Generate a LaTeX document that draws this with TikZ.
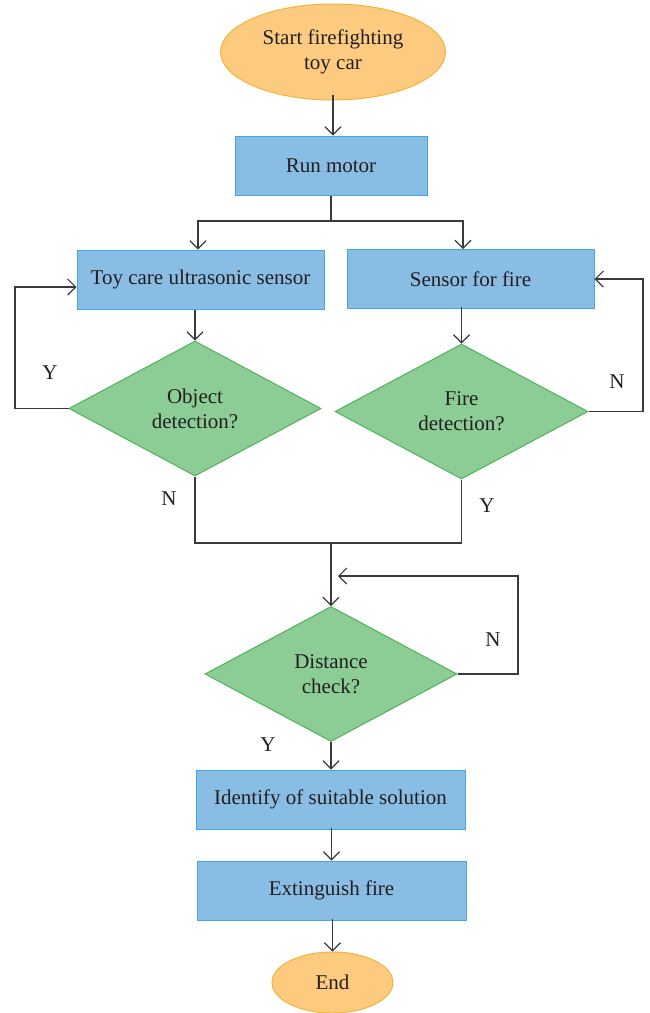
\documentclass[tikz,border=0pt]{standalone}
\usepackage{fontspec}
\setmainfont{Liberation Serif}
\usetikzlibrary{shapes.geometric,arrows.meta}
\definecolor{ofill}{HTML}{FCCB80}
\definecolor{odraw}{HTML}{F5B335}
\definecolor{bfill}{HTML}{8ABDE3}
\definecolor{bdraw}{HTML}{3FA9E0}
\definecolor{gfill}{HTML}{8BCD95}
\definecolor{gdraw}{HTML}{4DB35A}
\definecolor{lcol}{HTML}{3A3A3A}
\definecolor{tcol}{HTML}{231F20}
\begin{document}
\begin{tikzpicture}[x=1pt,y=-1pt,
  every node/.style={text=tcol,font=\fontsize{21}{25}\selectfont},
  term/.style={ellipse,fill=ofill,draw=odraw,line width=1pt,inner sep=0pt,align=center},
  proc/.style={rectangle,fill=bfill,draw=bdraw,line width=1pt,inner sep=0pt,minimum height=59pt},
  dec/.style={diamond,fill=gfill,draw=gdraw,line width=1pt,inner sep=0pt,shape aspect=1.87,minimum width=252pt,minimum height=135pt,align=center},
  conn/.style={draw=lcol,line width=1.2pt},
  arr/.style={conn,-{Straight Barb[length=8pt,width=16pt]}},
  lab/.style={inner sep=0pt}
]
\useasboundingbox (0,0) rectangle (650,1013);
\node[term,minimum width=225pt,minimum height=96pt] (start) at (333,52) {Start firefighting\\toy car};
\node[proc,minimum width=192pt] (run) at (331,165.5) {Run motor};
\node[proc,minimum width=247pt] (toy) at (200.5,279.5) {Toy care ultrasonic sensor};
\node[proc,minimum width=247pt] (fsens) at (470.5,279) {Sensor for fire};
\node[dec] (odia) at (195,408.5) {Object\\detection?};
\node[dec,minimum width=253pt] (fdia) at (461.5,411.5) {Fire\\detection?};
\node[dec] (ddia) at (331,674) {Distance\\check?};
\node[proc,minimum width=269pt] (ident) at (330.5,799.5) {Identify of suitable solution};
\node[proc,minimum width=269pt] (ext) at (331.5,890.5) {Extinguish fire};
\node[term,minimum width=121pt,minimum height=61pt] (end) at (332.5,982.5) {End};

\coordinate (split) at (331,221);
\coordinate (ly) at (15,287);
\coordinate (rn) at (643,279);
\coordinate (m) at (331,543);
\coordinate (dn) at (518,576);
\coordinate (dnend) at (338,576);

\draw[arr] ([yshift=6pt]start.south) -- (start.south |- run.north);
\draw[conn] (run.south) -- (split);
\draw[arr] (split) -| ([xshift=-2.5pt]toy.north);
\draw[arr] (split) -| ([xshift=-7.5pt]fsens.north);
\draw[arr] (odia.north |- toy.south) -- (odia.north);
\draw[arr] ([yshift=2pt]fdia.north |- fsens.south) -- (fdia.north);
\draw[arr] (odia.west) -| (ly) -- (toy.west |- ly);
\draw[arr] (fdia.east) -| (rn) -- (fsens.east);
\draw[conn] (odia.south) |- (m);
\draw[conn] (fdia.south) |- (m);
\draw[arr] (m) -- (ddia.north);
\draw[arr] (ddia.east) -| (dn) -- (dnend);
\draw[arr] (ddia.south) -- (ddia.south |- ident.north);
\draw[arr] ([yshift=2pt]ext.north |- ident.south) -- (ext.north);
\draw[arr] ([yshift=2pt]end.north |- ext.south) -- (end.north);

\node[lab] (y1) at (50,373) {Y};
\node[lab] (n1) at (617,382) {N};
\node[lab] (n2) at (169,499) {N};
\node[lab] (y2) at (487,506) {Y};
\node[lab] (n3) at (493,640) {N};
\node[lab] (y3) at (268,745) {Y};
\end{tikzpicture}
\end{document}
